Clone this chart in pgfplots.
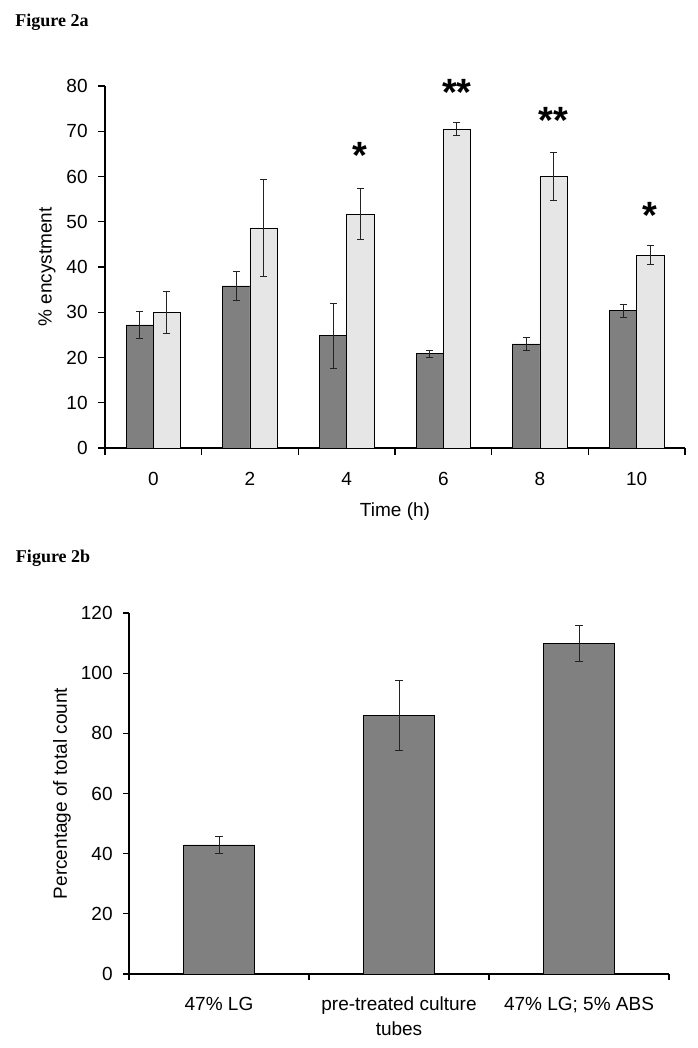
\documentclass[border=0pt]{standalone}
\usepackage{pgfplots}
\usepackage{pgfplotstable}
\pgfplotsset{compat=1.18}
\usepackage{fontspec}
\setmainfont{Liberation Sans}
\newfontfamily\titlefont{Liberation Serif}

\definecolor{darkbar}{RGB}{128,128,128}
\definecolor{lightbar}{RGB}{230,230,230}
\definecolor{errgray}{RGB}{35,35,35}

% figure 2a: time course, two series
\pgfplotstableread{
x y e
0 27.2 2.9
1 35.8 3.1
2 24.8 7.2
3 20.8 0.7
4 23.0 1.4
5 30.3 1.5
}\darkdata
\pgfplotstableread{
x y e
0 29.9 4.6
1 48.6 10.8
2 51.7 5.6
3 70.5 1.5
4 60.0 5.4
5 42.6 2.1
}\lightdata
% figure 2b
\pgfplotstableread{
x y e
0 42.9 2.7
1 86.0 11.6
2 109.8 6.0
}\countdata

\pgfplotsset{
  excelbars/.style={
    scale only axis,
    axis x line=bottom, axis y line=left,
    axis line style={-, black, line width=0.6pt},
    tick align=outside,
    major tick length=0pt,
    minor tick length=3.5pt,
    every minor tick/.append style={black, line width=0.6pt},
    enlargelimits=false,
    clip=false,
    tick label style={font=\fontsize{9.5}{12.5}\selectfont, inner sep=0pt},
    label style={font=\fontsize{9.5}{12.5}\selectfont},
    /pgf/number format/assume math mode=true,
    xticklabel style={anchor=north, align=center},
    yticklabel style={anchor=east},
  },
  errstyle/.style={
    error bars/.cd, y dir=both, y explicit,
    error bar style={errgray, line width=0.5pt},
    error mark options={rotate=90, mark size=#1, errgray, line width=0.5pt},
  },
}
\tikzset{sigstar/.style={anchor=north, inner sep=0pt, font=\fontsize{19}{19}\selectfont\bfseries}}

\begin{document}
\begin{tikzpicture}
\fill[white] (0,0) rectangle (348.5pt,524pt);
\path[use as bounding box] (0,0) rectangle (348.5pt,524pt);

\node[anchor=base west, inner sep=0pt, font=\titlefont\bfseries\fontsize{9}{9}\selectfont] at (7.5pt,510.65pt) {Figure 2a};
\node[anchor=base west, inner sep=0pt, font=\titlefont\bfseries\fontsize{9}{9}\selectfont] at (7.8pt,242.65pt) {Figure 2b};

\begin{axis}[excelbars,
  at={(52.5pt,300pt)}, anchor=south west,
  width=290pt, height=181pt,
  ybar=0pt, bar width=13.65pt,
  xmin=-0.5, xmax=5.5, ymin=0, ymax=80,
  xtick={0,...,5}, xticklabels={0,2,4,6,8,10},
  minor xtick={-0.5,0.5,1.5,2.5,3.5,4.5,5.5},
  ytick={0,10,...,80}, minor ytick={0,10,...,80},
  xticklabel style={yshift=-12pt},
  yticklabel style={xshift=-8.5pt},
  xlabel={Time (h)},
  xlabel style={at={(axis description cs:0.5,-0.177)}, anchor=center},
  ylabel={\% encystment},
  ylabel style={at={(axis description cs:-0.100,0.5)}, anchor=center},
]
\addplot[fill=darkbar, draw=black, line width=0.4pt, errstyle=1.75pt]
  table[x=x, y=y, y error=e] {\darkdata};
\addplot[fill=lightbar, draw=black, line width=0.4pt, errstyle=1.75pt]
  table[x=x, y=y, y error=e] {\lightdata};
\node[sigstar] at (axis cs:2.141,67.7) {*};
\node[sigstar] at (axis cs:3.141,81.5) {**};
\node[sigstar] at (axis cs:4.141,75.3) {**};
\node[sigstar] at (axis cs:5.141,54.3) {*};
\end{axis}

\begin{axis}[excelbars,
  at={(64.5pt,37pt)}, anchor=south west,
  width=270pt, height=180.5pt,
  ybar, bar width=35.5pt,
  xmin=-0.5, xmax=2.5, ymin=0, ymax=120,
  minor tick length=3pt,
  xtick={0,1,2},
  xticklabels={47\% LG, pre-treated culture\\tubes, 47\% LG; 5\% ABS},
  minor xtick={-0.5,0.5,1.5,2.5},
  ytick={0,20,...,120}, minor ytick={0,20,...,120},
  xticklabel style={yshift=-11.4pt},
  yticklabel style={xshift=-8pt},
  ylabel={Percentage of total count},
  ylabel style={at={(axis description cs:-0.124,0.5)}, anchor=center},
]
\addplot[fill=darkbar, draw=black, line width=0.4pt, errstyle=2pt]
  table[x=x, y=y, y error=e] {\countdata};
\end{axis}
\end{tikzpicture}
\end{document}
